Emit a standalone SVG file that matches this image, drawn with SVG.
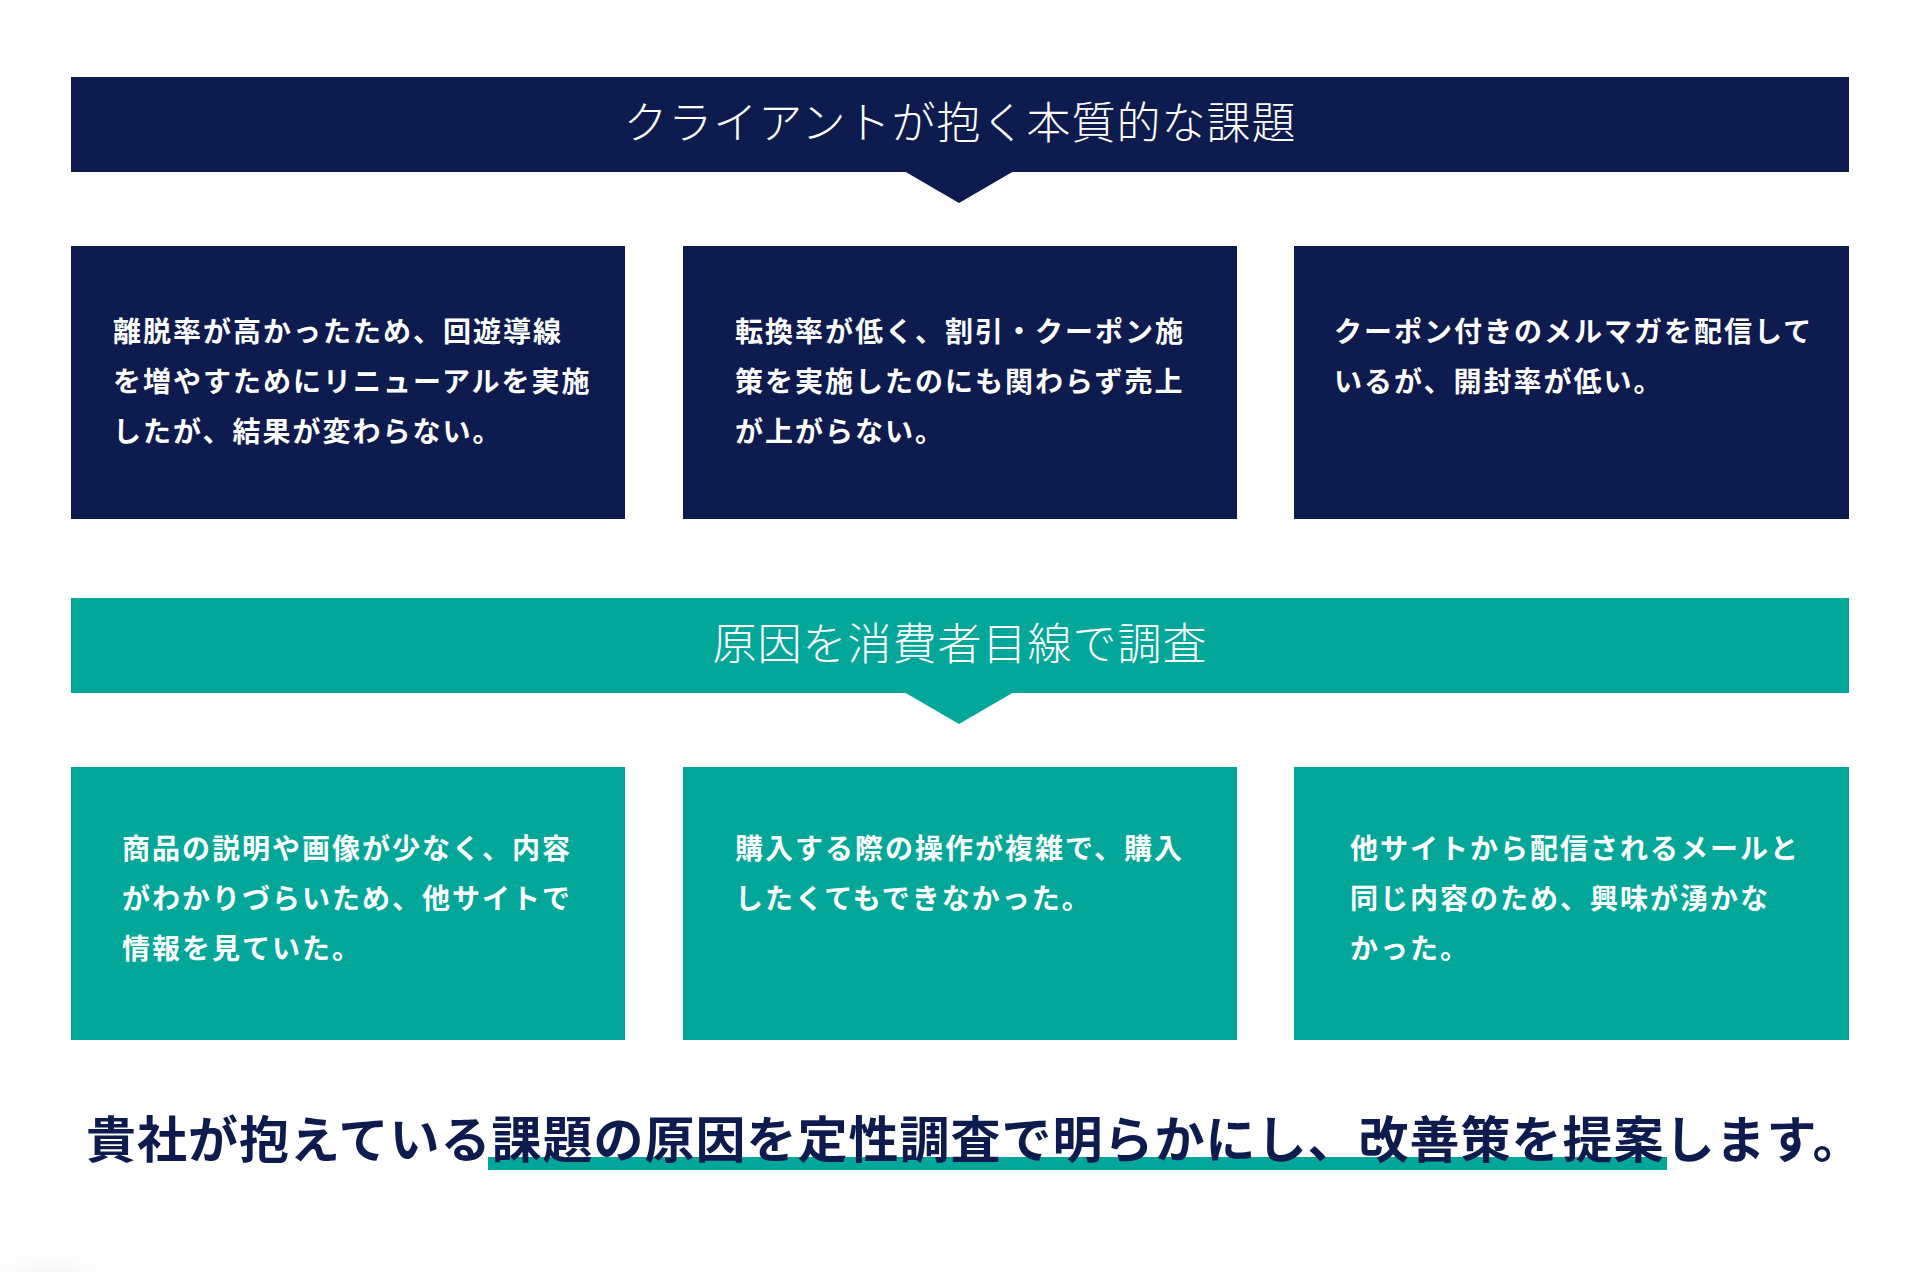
<svg xmlns="http://www.w3.org/2000/svg" width="1920" height="1272" viewBox="0 0 1920 1272">
<style>
.navy{fill:#0d1b4e}
.teal{fill:#03a799}
.head{font-family:"Noto Sans CJK JP","Noto Sans",sans-serif;font-size:44px;font-weight:300;fill:#ffffff;letter-spacing:1px}
.body{font-family:"Noto Sans CJK JP","Noto Sans",sans-serif;font-size:28px;font-weight:700;fill:#ffffff;letter-spacing:2px}
.lead{font-family:"Noto Sans CJK JP","Noto Sans",sans-serif;font-size:50px;font-weight:700;fill:#0d1b4e;letter-spacing:1px}
</style>
<defs>
<radialGradient id="shadow" cx="0.5" cy="0.5" r="0.5">
<stop offset="0" stop-color="#e6e8ec" stop-opacity="0.8"/>
<stop offset="1" stop-color="#ffffff" stop-opacity="0"/>
</radialGradient>
</defs>
<rect width="1920" height="1272" fill="#ffffff"/>
<ellipse cx="50" cy="1285" rx="90" ry="45" fill="url(#shadow)"/>

<g id="header-issues">
<rect class="navy" x="71" y="77" width="1778" height="95"/>
<polygon class="navy" points="904,171 1014,171 959,203"/>
<text class="head" x="960" y="139" text-anchor="middle">クライアントが抱く本質的な課題</text>
</g>

<g id="issue-1">
<rect class="navy" x="71" y="246" width="554" height="273"/>
<text class="body" x="113" y="342">離脱率が高かったため、回遊導線</text>
<text class="body" x="113" y="392">を増やすためにリニューアルを実施</text>
<text class="body" x="113" y="442">したが、結果が変わらない。</text>
</g>
<g id="issue-2">
<rect class="navy" x="683" y="246" width="554" height="273"/>
<text class="body" x="735" y="342">転換率が低く、割引・クーポン施</text>
<text class="body" x="735" y="392">策を実施したのにも関わらず売上</text>
<text class="body" x="735" y="442">が上がらない。</text>
</g>
<g id="issue-3">
<rect class="navy" x="1294" y="246" width="555" height="273"/>
<text class="body" x="1334" y="342">クーポン付きのメルマガを配信して</text>
<text class="body" x="1334" y="392">いるが、開封率が低い。</text>
</g>

<g id="header-research">
<rect class="teal" x="71" y="598" width="1778" height="95"/>
<polygon class="teal" points="904,692 1014,692 959,724"/>
<text class="head" x="960" y="660" text-anchor="middle">原因を消費者目線で調査</text>
</g>

<g id="cause-1">
<rect class="teal" x="71" y="767" width="554" height="273"/>
<text class="body" x="122" y="859">商品の説明や画像が少なく、内容</text>
<text class="body" x="122" y="909">がわかりづらいため、他サイトで</text>
<text class="body" x="122" y="959">情報を見ていた。</text>
</g>
<g id="cause-2">
<rect class="teal" x="683" y="767" width="554" height="273"/>
<text class="body" x="735" y="859">購入する際の操作が複雑で、購入</text>
<text class="body" x="735" y="909">したくてもできなかった。</text>
</g>
<g id="cause-3">
<rect class="teal" x="1294" y="767" width="555" height="273"/>
<text class="body" x="1350" y="859">他サイトから配信されるメールと</text>
<text class="body" x="1350" y="909">同じ内容のため、興味が湧かな</text>
<text class="body" x="1350" y="959">かった。</text>
</g>

<g id="conclusion">
<rect class="teal" x="488" y="1157" width="1179" height="13"/>
<text class="lead" x="86" y="1158">貴社が抱えている課題の原因を定性調査で明らかにし、改善策を提案します。</text>
</g>
</svg>
